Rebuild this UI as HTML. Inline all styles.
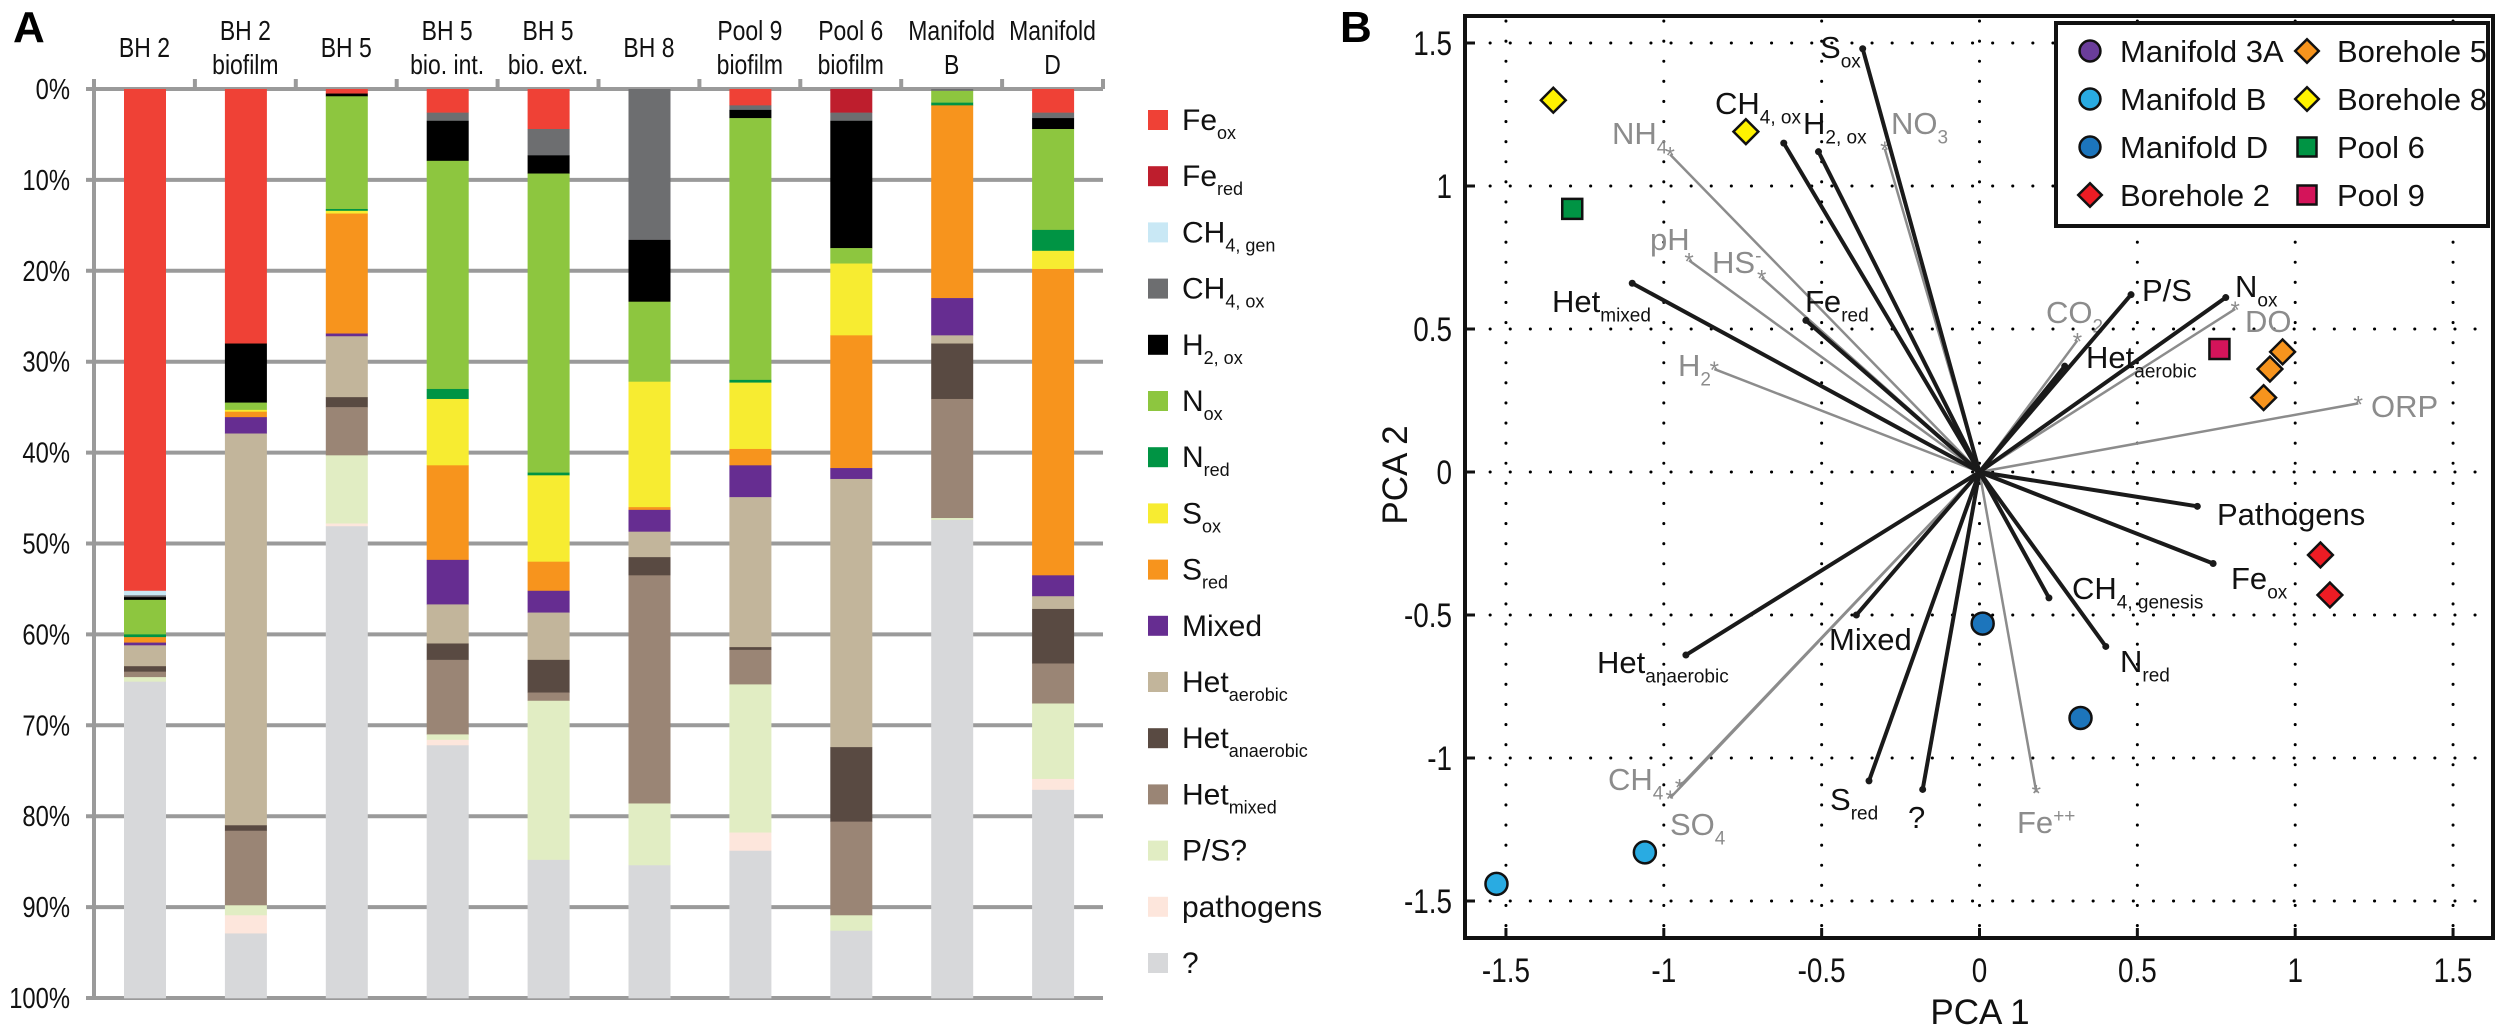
<!DOCTYPE html>
<html>
<head>
<meta charset="utf-8">
<style>
html,body{margin:0;padding:0;background:#fff;}
svg{display:block;font-family:"Liberation Sans",sans-serif;}
</style>
</head>
<body>
<svg id="fig" width="2500" height="1036" viewBox="0 0 2500 1036" xmlns="http://www.w3.org/2000/svg">
  <g id="panelA"></g>
  <g id="panelB"></g>
</svg>
<script>
// ---------- Panel A data ----------
const columns = [["BH 2"],["BH 2","biofilm"],["BH 5"],["BH 5","bio. int."],["BH 5","bio. ext."],["BH 8"],["Pool 9","biofilm"],["Pool 6","biofilm"],["Manifold","B"],["Manifold","D"]];
const groupNames = [["Fe","ox"],["Fe","red"],["CH","4, gen"],["CH","4, ox"],["H","2, ox"],["N","ox"],["N","red"],["S","ox"],["S","red"],["Mixed",""],["Het","aerobic"],["Het","anaerobic"],["Het","mixed"],["P/S?",""],["pathogens",""],["?",""]];
const groupColors = ["#ef4136","#be1e2d","#c9e8f5","#6d6e70","#000000","#8dc63f","#009444","#f7ec31","#f7941d","#662d91","#c2b59b","#594a42","#9a8575","#e1edc3","#fde6dc","#d7d8da"];
const bh2      = [55.2,0,0.5,0.2,0.3,3.8,0.3,0,0.6,0.3,2.3,0.6,0.6,0.5,0,34.8];
const bh2bio   = [28,0,0,0,6.5,0.8,0,0.2,0.6,1.8,43.1,0.6,8.2,1.1,2.0,7.1];
const bh5      = [0.5,0,0,0,0.3,12.4,0.2,0.3,13.2,0.3,6.7,1.1,5.3,7.5,0.3,51.9];
const bh5int   = [2.6,0,0,0.9,4.4,25.1,1.1,7.3,10.4,4.9,4.3,1.8,8.2,0.6,0.6,27.8];
const bh5ext   = [4.4,0,0,2.9,2.0,32.9,0.3,9.5,3.2,2.4,5.2,3.6,0.9,17.5,0,15.2];
const bh8      = [0,0,0,16.6,6.8,8.8,0,13.8,0.3,2.4,2.8,2.0,25.1,6.8,0,14.6];
const pool9    = [1.8,0,0,0.5,0.9,28.8,0.3,7.3,1.8,3.5,16.5,0.3,3.8,16.3,2.0,16.2];
const pool6    = [0,2.6,0,0.9,14.0,1.7,0,7.9,14.6,1.2,29.5,8.2,10.3,1.7,0,7.4];
const manB     = [0,0,0,0.2,0,1.3,0.3,0,21.2,4.1,0.9,6.1,13.1,0.2,0,52.6];
const manD     = [2.6,0,0,0.6,1.2,11.1,2.3,2.0,33.7,2.3,1.4,6.0,4.4,8.3,1.2,22.9];
const columnValues = [bh2,bh2bio,bh5,bh5int,bh5ext,bh8,pool9,pool6,manB,manD];
const yTicks = [0,10,20,30,40,50,60,70,80,90,100];

// ---------- Panel B data ----------
const sampleNames = ["Manifold 3A","Manifold B","Manifold D","Borehole 2","Borehole 5","Borehole 8","Pool 6","Pool 9"];
const sampleColors = ["#6a3d9a","#29abe2","#1c75bc","#ed1c24","#f7941d","#fff200","#009444","#d4145a"];
const sampleShapes = ["circle","circle","circle","diamond","diamond","diamond","square","square"];
const pointGroup = [5,5,6,7,4,4,4,3,3,2,2,1,1];
const pointX = [-1.35,-0.74,-1.29,0.76,0.96,0.92,0.90,1.08,1.11,0.01,0.32,-1.06,-1.53];
const pointY = [1.30,1.19,0.92,0.43,0.42,0.36,0.26,-0.29,-0.43,-0.53,-0.86,-1.33,-1.44];
const bioNames = [["S","ox"],["CH","4, ox"],["H","2, ox"],["Het","mixed"],["Fe","red"],["P/S",""],["N","ox"],["Het","aerobic"],["Pathogens",""],["Fe","ox"],["CH","4, genesis"],["N","red"],["Mixed",""],["Het","anaerobic"],["S","red"],["?",""]];
const bioX = [-0.37,-0.62,-0.51,-1.10,-0.55,0.48,0.78,0.27,0.69,0.74,0.22,0.40,-0.39,-0.93,-0.35,-0.18];
const bioY = [1.48,1.15,1.12,0.66,0.53,0.62,0.61,0.37,-0.12,-0.32,-0.44,-0.61,-0.50,-0.64,-1.08,-1.11];
const bioLabelPos = [[1820,58],[1715,114],[1803,134],[1552,312],[1805,312],[2142,301],[2235,297],[2086,368],[2217,525],[2231,589],[2072,599],[2120,672],[1829,650],[1597,673],[1830,810],[1908,828]];
const envNames = [["NH","4"],["NO","3"],["pH",""],["HS","-"],["H","2"],["CO","2"],["DO",""],["ORP",""],["CH","4"],["SO","4"],["Fe","++"]];
const envX = [-0.98,-0.30,-0.92,-0.69,-0.84,0.31,0.81,1.20,-0.95,-0.98,0.18];
const envY = [1.11,1.13,0.74,0.68,0.36,0.46,0.57,0.24,-1.10,-1.14,-1.12];
const envLabelPos = [[1612,144],[1891,134],[1650,250],[1712,273],[1678,376],[2046,323],[2245,332],[2371,417],[1608,790],[1670,835],[2017,833]];
const pcaTicks = [-1.5,-1,-0.5,0,0.5,1,1.5];

const NS="http://www.w3.org/2000/svg";
function mk(tag, attrs, parent){const e=document.createElementNS(NS,tag);for(const k in attrs)e.setAttribute(k,attrs[k]);parent.appendChild(e);return e;}
function subText(parent, x, y, parts, size, subSize, fill, anchor){
  const t=mk('text',{x:x,y:y,'font-size':size,fill:fill,'text-anchor':anchor||'start'},parent);
  const a=document.createElementNS(NS,'tspan');a.textContent=parts[0];t.appendChild(a);
  if(parts[1]){const sup=parts[1]==='-'||parts[1]==='++';const b=document.createElementNS(NS,'tspan');b.setAttribute('font-size',subSize);b.setAttribute('dy',sup?-size*0.35:size*0.3);b.textContent=parts[1];t.appendChild(b);}
  return t;
}
function narrowText(parent,x,y,str,size,anchor){
  const g=mk('g',{transform:`translate(${x} ${y}) scale(0.82 1)`},parent);
  const t=mk('text',{x:0,y:0,'font-size':size,'text-anchor':anchor,fill:'#111'},g);t.textContent=str;
  return g;
}

// ---------- Panel A ----------
const A=document.getElementById('panelA');
const axL=94, colW=100.9, yTop=89, yBot=998;
const yA=v=>yTop+(yBot-yTop)*v/100;
const xCol=i=>axL+i*colW;
let t=mk('text',{x:13,y:42,'font-size':44,'font-weight':'bold'},A);t.textContent='A';

yTicks.forEach(v=>{
  const l=mk('line',{x1:86,x2:xCol(10),y1:yA(v),y2:yA(v),stroke:'#9a9a9a','stroke-width':4},A);
  
  const tx=narrowText(A,70,yA(v)+10,v+'%',29,'end');
  
});
const ax=mk('line',{x1:axL,x2:axL,y1:yTop-10,y2:yBot+2,stroke:'#9a9a9a','stroke-width':4},A);

for(let i=1;i<=10;i++){const tk=mk('line',{x1:xCol(i),x2:xCol(i),y1:yTop-10,y2:yTop,stroke:'#9a9a9a','stroke-width':4},A);
  }
columnValues.forEach((vals,ci)=>{
  const g=mk('g',{},A);
  
  
  let cum=0;
  vals.forEach((v,gi)=>{
    if(v<=0) return;
    const r=mk('rect',{x:xCol(ci)+30,y:yA(cum),width:42,height:yA(cum+v)-yA(cum)+0.3,fill:groupColors[gi]},g);
    
    
    cum+=v;
  });
  const cx=xCol(ci)+colW/2;
  const lines=columns[ci];
  lines.forEach((s,li)=>{
    const y = lines.length===1?57:(40+li*34);
    const lt=narrowText(A,cx,y,s,28,'middle');
    
  });
});
groupNames.forEach((n,i)=>{
  const cy=120+i*56.2;
  const g=mk('g',{},A);
  
  
  mk('rect',{x:1148,y:cy-10,width:20,height:20,fill:groupColors[i]},g);
  subText(g,1182,cy+10,n,30,18,'#111');
});

// ---------- Panel B ----------
const B=document.getElementById('panelB');
const fx0=1465,fx1=2493,fy0=16,fy1=938;
const px=v=>1979.5+v*315.7, py=v=>472-v*286;
t=mk('text',{x:1340,y:42,'font-size':44,'font-weight':'bold'},B);t.textContent='B';

pcaTicks.forEach(v=>{
  const gx=mk('line',{x1:px(v),x2:px(v),y1:fy0+5,y2:fy1,stroke:'#000','stroke-width':3,'stroke-dasharray':'0.1 20','stroke-linecap':'round'},B);
  
  const gy=mk('line',{x1:fx0+5,x2:fx1,y1:py(v),y2:py(v),stroke:'#000','stroke-width':3,'stroke-dasharray':'0.1 20','stroke-linecap':'round'},B);
  
  mk('line',{x1:px(v),x2:px(v),y1:fy1,y2:fy1-10,stroke:'#111','stroke-width':3},B);
  mk('line',{x1:fx0,x2:fx0+10,y1:py(v),y2:py(v),stroke:'#111','stroke-width':3},B);
  const lx=narrowText(B,px(v),982,String(v),34,'middle');
  
  const ly=narrowText(B,1452,py(v)+12,String(v),34,'end');
  
});
envX.forEach((x,i)=>{
  const g=mk('g',{},B);
  
  
  mk('line',{x1:px(0),y1:py(0),x2:px(x),y2:py(envY[i]),stroke:'#8c8c8c','stroke-width':2.5},g);
  const s=mk('text',{x:px(x),y:py(envY[i])+9,'font-size':24,'text-anchor':'middle',fill:'#8c8c8c'},g);s.textContent='*';
  subText(g,envLabelPos[i][0],envLabelPos[i][1],envNames[i],31,19,'#8c8c8c');
});
bioX.forEach((x,i)=>{
  const g=mk('g',{},B);
  
  
  mk('line',{x1:px(0),y1:py(0),x2:px(x),y2:py(bioY[i]),stroke:'#1a1a1a','stroke-width':4},g);
  mk('circle',{cx:px(x),cy:py(bioY[i]),r:3.5,fill:'#1a1a1a'},g);
  subText(g,bioLabelPos[i][0],bioLabelPos[i][1],bioNames[i],31,19,'#111');
});
function marker(parent,shape,x,y,color,s){
  if(shape==='circle') return mk('circle',{cx:x,cy:y,r:s*0.55,fill:color,stroke:'#111','stroke-width':2.5},parent);
  if(shape==='square') return mk('rect',{x:x-s/2,y:y-s/2,width:s,height:s,fill:color,stroke:'#111','stroke-width':2.5},parent);
  const h=s*0.62;return mk('polygon',{points:`${x},${y-h} ${x+h},${y} ${x},${y+h} ${x-h},${y}`,fill:color,stroke:'#111','stroke-width':2.5},parent);
}
pointX.forEach((x,i)=>{
  const gi=pointGroup[i];
  const m=marker(B,sampleShapes[gi],px(x),py(pointY[i]),sampleColors[gi],20);
  
  
});
const fr=mk('rect',{x:fx0,y:fy0,width:fx1-fx0,height:fy1-fy0,fill:'none',stroke:'#111','stroke-width':4},B);

const lg=mk('g',{},B);

mk('rect',{x:2056,y:23,width:432,height:203,fill:'#fff',stroke:'#111','stroke-width':4},lg);
sampleNames.forEach((n,i)=>{
  const col=i<4?0:1,row=i%4;
  const mx=col?2307:2090, cy=51+row*48;
  const g=mk('g',{},lg);
  
  
  marker(g,sampleShapes[i],mx,cy,sampleColors[i],19);
  const tt=mk('text',{x:mx+30,y:cy+11,'font-size':31,fill:'#111'},g);tt.textContent=n;
});
t=mk('text',{x:1980,y:1024,'font-size':35,'text-anchor':'middle',fill:'#111'},B);t.textContent='PCA 1';

t=mk('text',{x:1407,y:475,'font-size':35,'text-anchor':'middle',fill:'#111',transform:'rotate(-90 1407 475)'},B);t.textContent='PCA 2';

</script>
</body>
</html>
